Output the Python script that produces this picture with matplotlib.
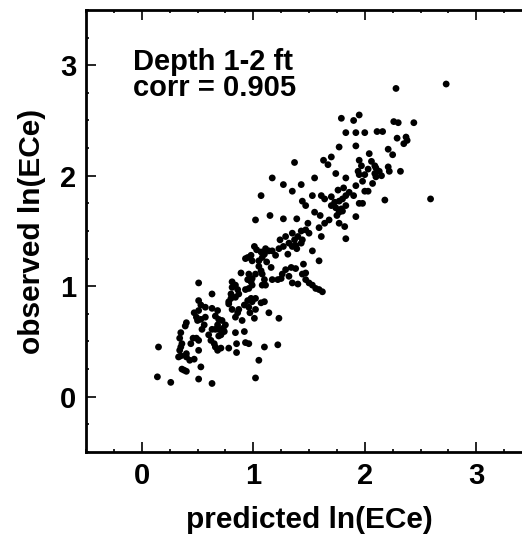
import matplotlib
matplotlib.use("Agg")
import matplotlib.pyplot as plt
from matplotlib.ticker import MultipleLocator

# predicted / observed ln(ECe), depth 1-2 ft
predicted = [
    2.73, 2.28, 2.26, 2.30, 2.44, 1.95, 1.90, 1.79, 1.83, 1.92, 2.00, 2.11, 2.16,
    2.29, 2.37, 2.38, 2.35, 1.77, 1.92, 2.04, 2.21, 2.25, 1.37, 1.70, 1.63, 1.67,
    1.95, 1.97, 2.06, 2.09, 2.03, 2.10, 2.13, 2.21, 2.22, 2.32, 1.74, 1.83, 1.94,
    1.95, 2.00, 2.09, 2.10, 2.15, 1.17, 1.55, 1.27, 1.43, 1.35, 1.92, 1.98, 2.07,
    1.81, 1.76, 1.86, 1.90, 2.00, 2.03, 1.07, 1.53, 1.61, 1.70, 1.73, 1.77, 1.80,
    1.83, 1.44, 1.47, 1.64, 2.18, 2.59, 1.95, 1.98, 1.70, 1.74, 1.79, 1.83, 1.77,
    1.80, 1.55, 1.60, 1.75, 1.02, 1.15, 1.27, 1.39, 1.92, 1.77, 1.82, 1.49, 1.47,
    1.59, 1.61, 1.64, 1.68, 1.83, 1.35, 1.40, 1.43, 1.44, 1.37, 1.50, 1.29, 1.32,
    1.35, 1.38, 1.43, 1.39, 1.24, 1.27, 1.23, 1.17, 1.31, 1.20, 1.53, 1.59, 1.45,
    1.01, 1.03, 1.07, 1.10, 1.11, 1.14, 1.08, 1.05, 1.12, 0.98, 0.95, 0.93, 0.99,
    1.05, 1.07, 1.02, 1.08, 1.10, 1.11, 1.08, 1.17, 1.16, 1.29, 1.34, 1.38, 1.26,
    1.25, 1.22, 1.32, 1.35, 1.40, 1.44, 1.47, 1.47, 1.50, 1.53, 1.56, 1.59, 1.62,
    0.95, 0.98, 0.99, 0.96, 0.93, 0.89, 0.96, 0.99, 0.81, 0.81, 0.84, 0.86, 0.87,
    0.84, 0.80, 0.80, 0.78, 0.51, 0.63, 0.51, 0.53, 0.57, 0.51, 0.47, 0.49, 0.50,
    0.53, 0.57, 0.56, 0.54, 0.63, 0.68, 0.66, 0.69, 0.68, 0.72, 0.66, 0.63, 0.69,
    0.73, 0.75, 0.74, 0.71, 0.78, 0.81, 0.86, 0.84, 0.87, 0.92, 0.95, 0.96, 0.97,
    0.90, 0.98, 0.99, 1.02, 0.40, 0.39, 0.35, 0.34, 0.36, 0.35, 0.34, 0.35, 0.40,
    0.43, 0.40, 0.44, 0.46, 0.49, 0.51, 0.51, 0.33, 0.60, 0.62, 0.65, 0.66, 0.68,
    0.71, 0.69, 0.84, 0.92, 0.85, 0.93, 0.96, 0.85, 0.78, 1.01, 1.02, 1.07, 1.10,
    1.14, 1.23, 1.10, 1.22, 1.05, 0.47, 0.36, 0.38, 0.40, 0.53, 0.15, 0.14, 0.26,
    0.51, 0.63, 1.02,
]
observed = [
    2.83, 2.79, 2.49, 2.48, 2.48, 2.55, 2.50, 2.52, 2.39, 2.39, 2.39, 2.40, 2.40,
    2.34, 2.35, 2.32, 2.29, 2.26, 2.27, 2.20, 2.24, 2.19, 2.12, 2.17, 2.14, 2.10,
    2.14, 2.09, 2.13, 2.09, 2.06, 2.07, 2.04, 2.08, 2.04, 2.04, 2.02, 1.98, 2.04,
    2.01, 2.01, 2.02, 1.99, 2.00, 1.98, 1.98, 1.92, 1.92, 1.86, 1.91, 1.95, 1.93,
    1.89, 1.87, 1.85, 1.82, 1.86, 1.86, 1.82, 1.82, 1.82, 1.81, 1.76, 1.77, 1.79,
    1.82, 1.77, 1.73, 1.79, 1.78, 1.79, 1.75, 1.75, 1.73, 1.71, 1.70, 1.73, 1.67,
    1.68, 1.67, 1.64, 1.64, 1.60, 1.64, 1.61, 1.61, 1.63, 1.57, 1.54, 1.57, 1.51,
    1.53, 1.45, 1.57, 1.60, 1.43, 1.48, 1.45, 1.50, 1.42, 1.42, 1.48, 1.45, 1.39,
    1.36, 1.37, 1.39, 1.34, 1.42, 1.36, 1.34, 1.32, 1.29, 1.28, 1.32, 1.23, 1.20,
    1.36, 1.33, 1.31, 1.29, 1.34, 1.32, 1.26, 1.23, 1.22, 1.28, 1.26, 1.25, 1.23,
    1.18, 1.14, 1.11, 1.11, 1.06, 1.01, 1.01, 1.06, 1.17, 1.15, 1.17, 1.16, 1.11,
    1.07, 1.06, 1.09, 1.03, 1.02, 1.11, 1.12, 1.06, 1.03, 1.01, 0.98, 0.97, 0.95,
    1.06, 1.04, 1.01, 0.98, 0.97, 1.12, 1.11, 1.07, 1.04, 0.99, 1.01, 0.97, 0.93,
    0.90, 0.93, 0.89, 0.86, 1.03, 0.93, 0.87, 0.83, 0.81, 0.78, 0.76, 0.72, 0.69,
    0.70, 0.72, 0.65, 0.61, 0.80, 0.78, 0.73, 0.70, 0.65, 0.69, 0.61, 0.61, 0.61,
    0.62, 0.65, 0.59, 0.56, 0.84, 0.79, 0.76, 0.72, 0.79, 0.83, 0.87, 0.81, 0.76,
    0.69, 0.89, 0.86, 0.89, 0.67, 0.64, 0.58, 0.53, 0.48, 0.45, 0.42, 0.37, 0.36,
    0.33, 0.39, 0.48, 0.53, 0.53, 0.51, 0.42, 0.36, 0.56, 0.51, 0.48, 0.45, 0.42,
    0.44, 0.55, 0.58, 0.59, 0.48, 0.49, 0.48, 0.40, 0.44, 0.71, 0.79, 0.85, 0.86,
    0.76, 0.71, 0.45, 0.47, 0.33, 0.34, 0.25, 0.24, 0.23, 0.27, 0.45, 0.18, 0.13,
    0.16, 0.12, 0.17,
]

plt.rcParams['font.family'] = ['Liberation Sans', 'DejaVu Sans']
plt.rcParams['font.weight'] = 'bold'

fig = plt.figure(figsize=(5.22, 5.40), dpi=100)
# right edge of the frame runs past the picture, as in the original
ax = fig.add_axes([0.1648, 0.163, 0.8544, 0.8185])

ax.scatter(predicted, observed, s=24, c='black', edgecolors='none')

ax.set_xlim(-0.5, 3.5)
ax.set_ylim(-0.5, 3.5)
ax.xaxis.set_major_locator(MultipleLocator(1))
ax.xaxis.set_minor_locator(MultipleLocator(0.25))
ax.yaxis.set_major_locator(MultipleLocator(1))
ax.yaxis.set_minor_locator(MultipleLocator(0.25))
ax.tick_params(which='both', direction='in', top=True, right=True, width=1.2,
               labelsize=21, pad=7)
ax.tick_params(which='major', length=7)
ax.tick_params(which='minor', length=2.5)
for sp in ax.spines.values():
    sp.set_linewidth(2)

ax.set_xlabel('predicted ln(ECe)', fontsize=21.5, fontweight='bold', labelpad=12)
ax.set_ylabel('observed ln(ECe)', fontsize=21.5, fontweight='bold', labelpad=10)

ax.text(0.105, 0.915, 'Depth 1-2 ft\ncorr = 0.905', transform=ax.transAxes,
        fontsize=21, fontweight='bold', va='top', ha='left', linespacing=0.92)

fig.savefig('out.png', dpi=100)
